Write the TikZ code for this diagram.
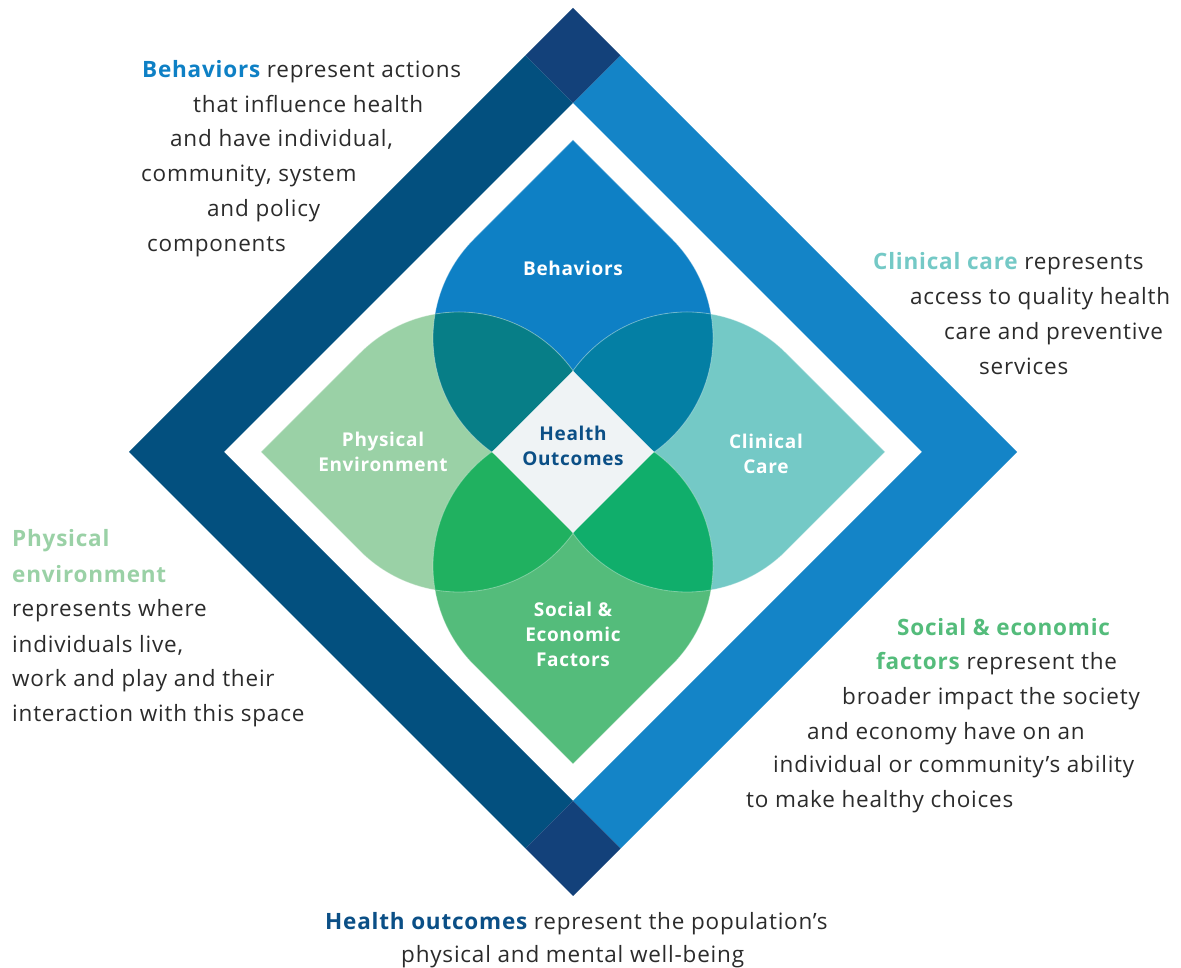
\documentclass[tikz,border=0pt]{standalone}
\usepackage{fontspec}
\setmainfont{Open Sans}[LetterSpace=3.5]
\usepackage{tikz}

\definecolor{bandleft}{HTML}{03507F}
\definecolor{bandright}{HTML}{1484C7}
\definecolor{cornercol}{HTML}{13417A}
\definecolor{bhvcol}{HTML}{0E80C5}
\definecolor{phycol}{HTML}{9AD1A6}
\definecolor{clicol}{HTML}{74C9C6}
\definecolor{soccol}{HTML}{54BC7B}
\definecolor{bhvphy}{HTML}{077E87}
\definecolor{bhvcli}{HTML}{047FA4}
\definecolor{physoc}{HTML}{20B160}
\definecolor{clisoc}{HTML}{10AE6B}
\definecolor{centercol}{HTML}{EFF3F5}
\definecolor{outcol}{HTML}{0B4F86}
\definecolor{txtcol}{HTML}{2B2B2B}

% Blatt, Spitze nach oben, Kreismitte bei (0,114)
\newcommand\petalshape{(0,312) -- ++(-45:140) arc[start angle=45, end angle=-225, radius=140] -- cycle}

\begin{document}
\begin{tikzpicture}[x=1pt, y=1pt,
    body/.style={anchor=base west, inner sep=0pt, text=txtcol, font=\fontsize{22.5}{27}\selectfont},
    petallabel/.style={align=center, inner sep=0pt, text=white, font=\bfseries\fontsize{19}{25}\selectfont},
    seam/.style={draw=white, draw opacity=0.35, line width=0.8pt}]
    \useasboundingbox (0,0) rectangle (1181,968);
    % Rahmen zeichnen
    \begin{scope}[shift={(573,516)}]
        \fill[bandleft] (-47.5,396.5) -- (-444,0) -- (-47.5,-396.5) -- (0,-349) -- (-349,0) -- (0,349) -- cycle;
        \fill[bandright] (47.5,396.5) -- (444,0) -- (47.5,-396.5) -- (0,-349) -- (349,0) -- (0,349) -- cycle;
        \foreach \s in {1,-1}
            \fill[cornercol] (0,\s*444) -- (47.5,\s*396.5) -- (0,\s*349) -- (-47.5,\s*396.5) -- cycle;
    % Blaetter zeichnen
        \fill[bhvcol] \petalshape;
        \fill[phycol, rotate=90] \petalshape;
        \fill[clicol, rotate=-90] \petalshape;
        \fill[soccol, rotate=180] \petalshape;
        % Ueberschneidungen
        \begin{scope}
            \clip \petalshape;
            \fill[bhvphy, rotate=90] \petalshape;
            \fill[bhvcli, rotate=-90] \petalshape;
        \end{scope}
        \begin{scope}
            \clip[rotate=180] \petalshape;
            \fill[physoc, rotate=90] \petalshape;
            \fill[clisoc, rotate=-90] \petalshape;
        \end{scope}
        \foreach \r in {0,90,-90,180} \path[seam, rotate=\r] \petalshape;
        % Mitte
        \fill[centercol] (0,81) -- (81,0) -- (0,-81) -- (-81,0) -- cycle;
    \end{scope}
    % Beschriftung der Blaetter
    \node[petallabel] (bhvlabel) at (573,968-268) {Behaviors};
    \node[petallabel] (phylabel) at (383,968-452) {Physical\\Environment};
    \node[petallabel] (clilabel) at (766,968-454) {Clinical\\Care};
    \node[petallabel] (soclabel) at (573,968-634) {Social \&\\Economic\\Factors};
    \node[petallabel, text=outcol] (outlabel) at (573,968-446) {Health\\Outcomes};
    % Texte
    \node[body] (bhvtxt) at (142,968-78) {\textbf{\color{bhvcol}Behaviors} represent actions};
    \foreach \x/\y/\t [count=\i] in {193/113/{that influence health}, 170/147/{and have individual,},
        141/182/{community, system}, 207/217/{and policy}, 147/252/{components}}
        \node[body] (bhvtxt\i) at (\x,968-\y) {\t};
    \node[body] (clitxt) at (873,968-270) {\textbf{\color{clicol}Clinical care} represents};
    \foreach \x/\y/\t [count=\i] in {910/305/{access to quality health}, 944/340/{care and preventive}, 979/375/{services}}
        \node[body] (clitxt\i) at (\x,968-\y) {\t};
    \node[body] (phytxt) at (12,968-547) {\textbf{\color{phycol}Physical}};
    \node[body] (phytxt0) at (12,968-583) {\textbf{\color{phycol}environment}};
    \foreach \y/\t [count=\i] in {617/{represents where}, 653/{individuals live,}, 687/{work and play and their}, 722/{interaction with this space}}
        \node[body] (phytxt\i) at (12,968-\y) {\t};
    \node[body] (soctxt) at (897,968-636) {\textbf{\color{soccol}Social \& economic}};
    \node[body] (soctxt0) at (876,968-670) {\textbf{\color{soccol}factors} represent the};
    \foreach \x/\y/\t [count=\i] in {842/705/{broader impact the society}, 807/740/{and economy have on an},
        773/773/{individual or community’s ability}, 746/808/{to make healthy choices}}
        \node[body] (soctxt\i) at (\x,968-\y) {\t};
    \node[body] (outtxt) at (325,968-930) {\textbf{\color{outcol}Health outcomes} represent the population’s};
    \node[body] (outtxt1) at (401,968-963) {physical and mental well-being};
\end{tikzpicture}
\end{document}
